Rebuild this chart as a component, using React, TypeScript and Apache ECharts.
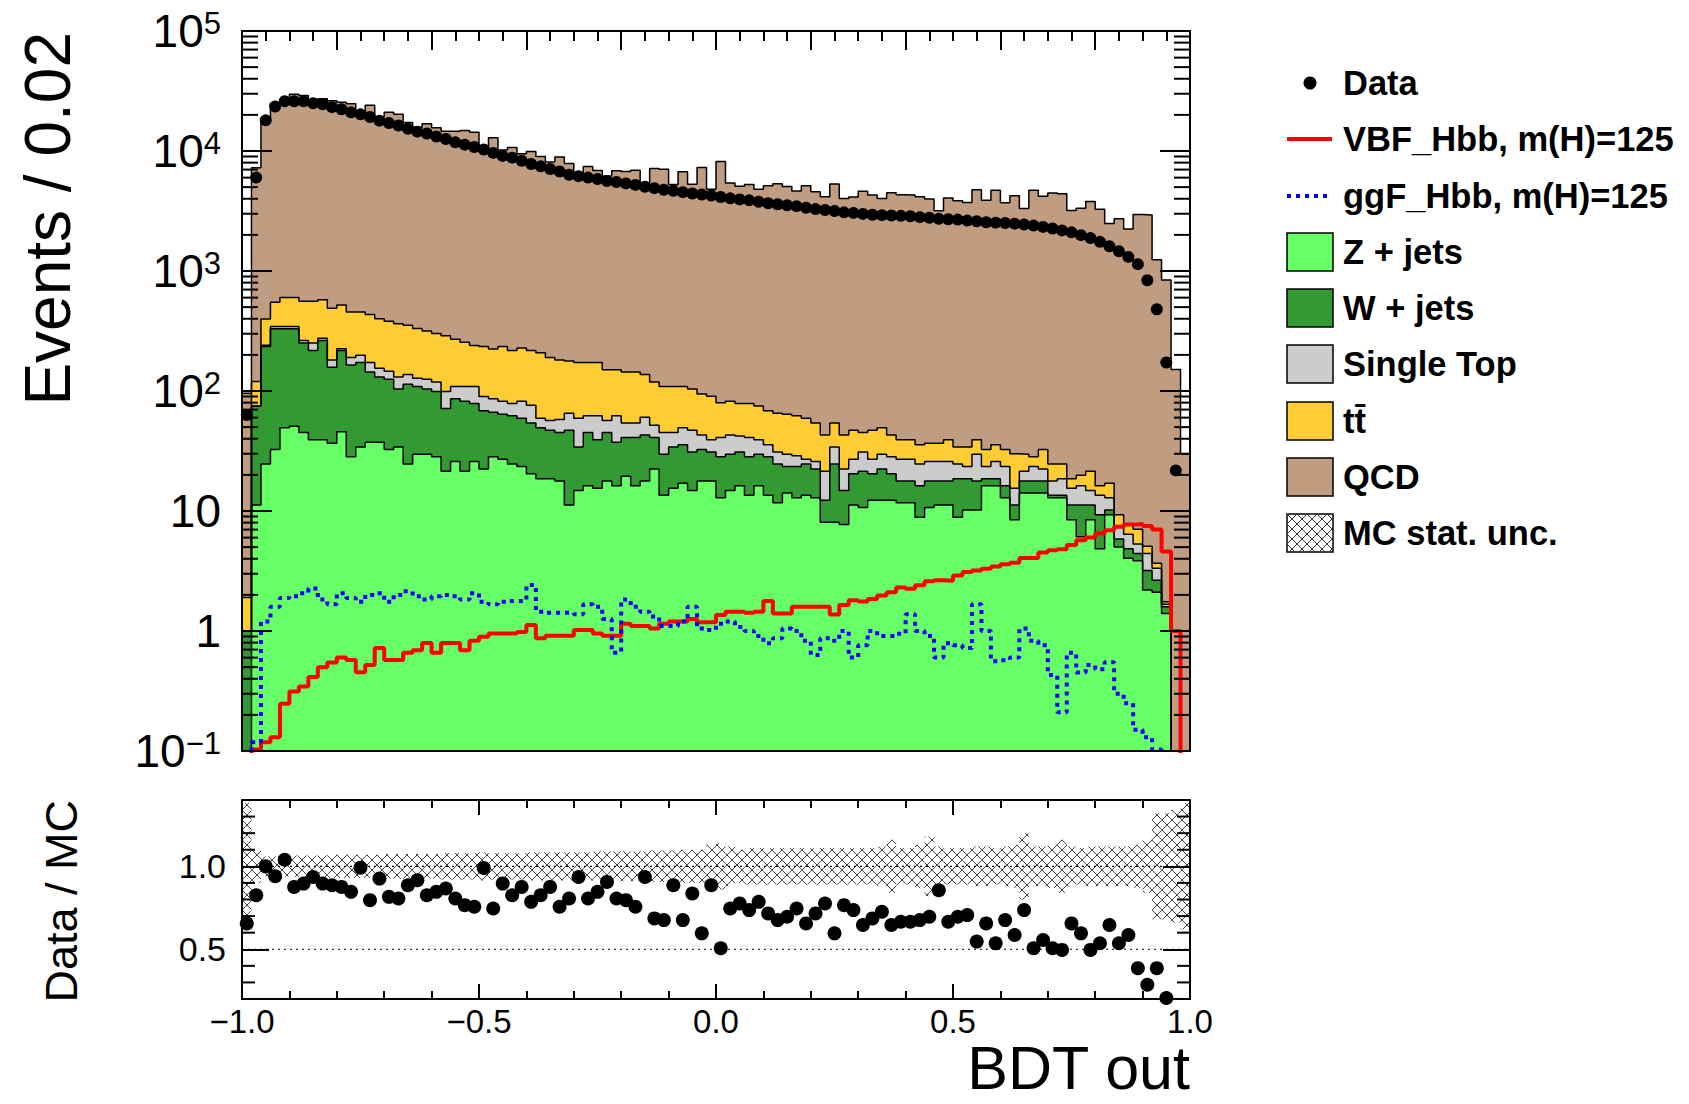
import React, { useEffect, useRef } from 'react';
import * as echarts from 'echarts';

// ---------------- binning ----------------
const X_MIN = -1;
const BIN_WIDTH = 0.02;
const N_BINS = 100;

// ---------------- data ----------------
const dataEvents: (number | null)[] = [
  63, 6000, 18000, 23500, 26000, 26000, 26000, 25000, 24500, 23200,
  22300, 21000, 20200, 19200, 17900, 17100, 16300, 15300, 14500, 14000,
  13200, 12600, 11800, 11300, 10800, 10300, 9640, 9100, 8800, 8300,
  7800, 7450, 7080, 6750, 6340, 6170, 6000, 5830, 5620, 5520,
  5370, 5220, 5040, 4900, 4760, 4670, 4540, 4420, 4340, 4260,
  4140, 4030, 3950, 3880, 3780, 3670, 3600, 3530, 3470, 3370,
  3280, 3220, 3160, 3080, 3050, 2990, 2940, 2920, 2900, 2880,
  2860, 2810, 2780, 2720, 2700, 2680, 2630, 2600, 2550, 2530,
  2510, 2480, 2440, 2390, 2330, 2260, 2180, 2100, 1990, 1880,
  1750, 1610, 1460, 1310, 1140, 838, 480, 173, 21.8, null,
];

// cumulative stack levels (Z+jets, +W+jets, +Single Top, +ttbar, +QCD)
const stackQCD = [
  96, 7260, 18000, 25000, 25000, 29700, 29000, 26700, 27300, 26200,
  25500, 24800, 20400, 24100, 19300, 21000, 20200, 17300, 15800, 16900,
  15600, 14600, 14600, 14800, 14300, 10400, 12900, 10200, 10700, 9480,
  9920, 9020, 8080, 8930, 7870, 6590, 7440, 6890, 6200, 6850,
  6750, 6900, 5390, 7140, 7040, 5270, 6720, 5290, 7280, 4810,
  8180, 5400, 5090, 5270, 4810, 5130, 5330, 5070, 4650, 5140,
  4580, 4150, 5300, 4020, 4140, 4630, 4290, 4020, 4490, 4320,
  4290, 4160, 3990, 3180, 4050, 3850, 3730, 4760, 3890, 4720,
  3710, 4230, 3320, 4720, 4190, 4470, 4400, 3200, 3340, 3790,
  3270, 2490, 2720, 2240, 2950, 2930, 1240, 840, 151, 30,
];
const stackTTbar = [
  1.9, 120, 399, 550, 600, 600, 560, 560, 575, 490,
  520, 455, 455, 435, 400, 381, 363, 353, 331, 316,
  302, 288, 270, 255, 239, 235, 224, 235, 218, 228,
  218, 208, 190, 181, 178, 173, 173, 173, 150, 150,
  144, 144, 137, 119, 109, 109, 109, 104, 94.6, 90.3,
  80, 82.3, 78.5, 78.5, 75, 68.4, 65.3, 64, 62.2, 59.4,
  54.2, 43, 54.2, 43, 47.1, 45, 47.1, 49.4, 43, 39.2,
  39.2, 35.7, 36.7, 36.7, 39.2, 34.1, 34.1, 39.2, 32.5, 35.7,
  32.5, 30, 29.7, 28.3, 32.5, 24.6, 24.6, 18.6, 19.9, 21.4,
  16.2, 17.0, 9.29, 7.71, 7.03, 5.08, 3.67, 1.75, 0.01, 0.01,
];
const stackSingleTop = [
  1.0, 75, 240, 345, 345, 345, 263, 251, 275, 181,
  225, 190, 199, 173, 155, 146, 131, 137, 128, 125,
  119, 99, 109, 109, 109, 90, 86, 82, 78.5, 82,
  76, 59.4, 56.7, 58, 65.3, 59.4, 62.2, 62.2, 56.7, 62.2,
  54.2, 54.2, 60.5, 51.8, 45, 45, 49.4, 47.1, 43, 39.2,
  41, 43, 42.2, 41, 39.2, 35.7, 31, 29.7, 28.8, 27,
  25.8, 21.4, 34.1, 22.4, 27, 31, 27, 29.7, 28.3, 27,
  27, 24.6, 25.8, 25.8, 25.8, 24.6, 23.5, 29.7, 23.5, 25.8,
  23.5, 15.5, 21.4, 23.5, 22.4, 17.8, 18.6, 15.5, 16.2, 14.8,
  13.5, 12.9, 7.36, 6.4, 5.32, 4.42, 3.34, 1.67, 0.01, 0.01,
];
const stackWJets = [
  1.0, 75, 235, 330, 330, 330, 251, 218, 263, 158,
  218, 165, 173, 144, 131, 125, 104, 114, 109, 104,
  99, 71.6, 86, 82, 78.5, 68.4, 66.5, 64, 62.2, 59.4,
  54.2, 49.4, 47.1, 45, 47.1, 34.1, 45, 39.2, 45, 37.4,
  41, 41, 43, 41, 29.7, 34.1, 35.7, 31, 32.5, 31,
  28.3, 29.7, 31, 28.3, 29.7, 28.3, 24.6, 23.5, 23.5, 24.6,
  22.4, 12.3, 24.6, 14.8, 20.4, 21.4, 20.4, 22.4, 20.4, 17.8,
  17.8, 16.2, 17.8, 17.8, 17.8, 18.6, 18.6, 17.8, 18.6, 18.6,
  16.2, 11.2, 17.8, 17.8, 17.8, 13.5, 13.5, 11.2, 11.2, 11.2,
  9.29, 10.2, 5.83, 4.84, 4.42, 3.19, 2.65, 1.59, 0.01, 0.01,
];
const zJets = [
  0.08, 11.2, 24.6, 32.5, 49.4, 50.8, 45, 39.2, 39.2, 36.7,
  45.8, 28.3, 34.1, 37.4, 37.4, 32.5, 34.1, 24.6, 29.7, 29.7,
  28.3, 21.4, 25.8, 21.4, 25.8, 22.4, 28.3, 27, 24.6, 23.5,
  20.4, 18.6, 18.6, 17.8, 11.2, 14.8, 16.2, 15.5, 17.8, 16.2,
  19.5, 16.2, 17.8, 22.4, 13.5, 15.5, 17.0, 14.8, 17.8, 17.8,
  12.9, 14.8, 16.2, 13.5, 16.2, 13.5, 11.7, 14.1, 12.9, 13.5,
  12.9, 8.07, 8.07, 7.71, 11.2, 10.7, 12.3, 12.3, 12.3, 11.7,
  11.7, 8.87, 10.7, 11.2, 11.2, 8.87, 10.2, 10.2, 16.2, 16.2,
  12.9, 8.46, 14.1, 14.1, 14.1, 12.9, 12.9, 8.46, 6.1, 8.46,
  4.84, 9.29, 5.0, 4.03, 3.85, 2.2, 2.1, 1.4, 0.01, 0.01,
];
const vbfHbb = [
  0.05, 0.103, 0.118, 0.13, 0.248, 0.313, 0.344, 0.414, 0.499, 0.547,
  0.6, 0.573, 0.454, 0.522, 0.723, 0.573, 0.573, 0.659, 0.69, 0.793,
  0.659, 0.793, 0.793, 0.69, 0.83, 0.895, 0.955, 0.955, 0.955, 0.982,
  1.12, 0.871, 0.912, 0.912, 0.912, 1.02, 1.02, 0.955, 0.912, 0.912,
  1.15, 1.1, 1.1, 1.05, 1.15, 1.2, 1.2, 1.26, 1.18, 1.18,
  1.36, 1.45, 1.45, 1.42, 1.45, 1.78, 1.4, 1.4, 1.59, 1.59,
  1.59, 1.59, 1.37, 1.65, 1.8, 1.76, 1.85, 1.98, 2.1, 2.3,
  2.25, 2.4, 2.6, 2.65, 2.62, 2.9, 3.1, 3.2, 3.3, 3.45,
  3.6, 3.7, 4.05, 4.05, 4.5, 4.7, 4.8, 5.2, 5.7, 6.0,
  6.5, 6.9, 7.4, 7.7, 7.8, 7.5, 7.0, 4.6, 1.0, 0.01,
];
const ggfHbb = [
  0.05, 0.118, 1.2, 1.59, 1.88, 1.95, 2.06, 2.26, 1.83, 1.67,
  2.06, 1.88, 1.75, 2.0, 2.06, 1.75, 2.0, 2.14, 1.95, 1.83,
  1.95, 2.0, 1.95, 1.83, 2.06, 1.75, 1.67, 1.75, 1.78, 1.78,
  2.42, 1.45, 1.42, 1.42, 1.42, 1.38, 1.67, 1.59, 1.26, 0.66,
  1.83, 1.59, 1.45, 1.32, 1.1, 1.1, 1.2, 1.59, 1.05, 1.02,
  1.15, 1.2, 1.08, 1.0, 0.91, 0.79, 0.87, 1.05, 1.0, 0.83,
  0.63, 0.87, 0.83, 1.0, 0.6, 0.76, 1.0, 0.91, 0.91, 0.95,
  1.38, 1.0, 0.91, 0.6, 0.79, 0.76, 0.72, 1.67, 1.0, 0.56,
  0.57, 0.6, 1.05, 0.83, 0.76, 0.43, 0.21, 0.66, 0.45, 0.52,
  0.48, 0.55, 0.3, 0.25, 0.15, 0.13, 0.103, 0.05, 0.05, 0.05,
];
const ratioDataMC: (number | null)[] = [
  0.656, 0.826, 1.0, 0.94, 1.04, 0.876, 0.896, 0.936, 0.896, 0.886,
  0.876, 0.846, 0.992, 0.796, 0.926, 0.816, 0.806, 0.886, 0.916, 0.826,
  0.846, 0.866, 0.806, 0.766, 0.756, 0.99, 0.746, 0.896, 0.826, 0.876,
  0.786, 0.826, 0.876, 0.756, 0.806, 0.936, 0.806, 0.846, 0.906, 0.806,
  0.796, 0.756, 0.936, 0.686, 0.676, 0.886, 0.676, 0.836, 0.596, 0.886,
  0.506, 0.746, 0.776, 0.736, 0.786, 0.716, 0.676, 0.696, 0.746, 0.656,
  0.716, 0.776, 0.596, 0.766, 0.736, 0.646, 0.686, 0.726, 0.646, 0.666,
  0.666, 0.676, 0.696, 0.856, 0.666, 0.696, 0.706, 0.546, 0.656, 0.536,
  0.676, 0.586, 0.736, 0.506, 0.556, 0.506, 0.496, 0.656, 0.596, 0.496,
  0.536, 0.646, 0.536, 0.586, 0.386, 0.286, 0.386, 0.206, null, null,
];
const mcStatUnc = [
  0.38, 0.1, 0.06, 0.06, 0.06, 0.065, 0.065, 0.065, 0.065, 0.07,
  0.07, 0.07, 0.07, 0.07, 0.07, 0.075, 0.075, 0.075, 0.075, 0.075,
  0.075, 0.08, 0.08, 0.08, 0.08, 0.085, 0.08, 0.08, 0.08, 0.08,
  0.085, 0.085, 0.085, 0.085, 0.085, 0.085, 0.085, 0.09, 0.09, 0.09,
  0.09, 0.09, 0.09, 0.095, 0.095, 0.095, 0.1, 0.1, 0.1, 0.13,
  0.14, 0.12, 0.1, 0.11, 0.11, 0.11, 0.11, 0.11, 0.11, 0.11,
  0.11, 0.11, 0.11, 0.11, 0.11, 0.11, 0.11, 0.12, 0.16, 0.11,
  0.11, 0.13, 0.18, 0.12, 0.11, 0.11, 0.11, 0.12, 0.12, 0.11,
  0.12, 0.13, 0.2, 0.12, 0.12, 0.13, 0.16, 0.12, 0.11, 0.12,
  0.12, 0.12, 0.12, 0.12, 0.13, 0.16, 0.32, 0.32, 0.34, 0.38,
];

const ratioMinorTicks = [0.3, 0.4, 0.6, 0.7, 0.8, 0.9, 1.1, 1.2, 1.3];
const ratioMajorTicks = [0.5, 1.0];

// ---------------- style ----------------
const FONT = '"Liberation Sans", Arial, Helvetica, sans-serif';
const COL = {
  qcd: '#C09C81',
  tt: '#FFCC33',
  st: '#CCCCCC',
  w: '#339933',
  z: '#66FF66',
  vbf: '#FF0000',
  ggf: '#0000FF',
};
const MAIN = { left: 242, top: 31, width: 948, height: 720 };
const RATIO = { left: 242, top: 800, width: 948, height: 199 };

const edge = (i: number) => X_MIN + i * BIN_WIDTH;
const stepPoints = (vals: number[]) => {
  const pts = vals.map((v, i) => [edge(i), v]);
  pts.push([edge(N_BINS), vals[N_BINS - 1]]);
  return pts;
};

function hatchSegments(x0: number, y0: number, x1: number, y1: number, P: number, ox: number, oy: number) {
  const segs: number[][] = [];
  const aMin = (x0 - ox) - (y1 - oy);
  const aMax = (x1 - ox) - (y0 - oy);
  for (let k = Math.ceil(aMin / P); k * P <= aMax; k++) {
    const c = k * P;
    const xs = Math.max(x0, y0 + ox - oy + c);
    const xe = Math.min(x1, y1 + ox - oy + c);
    if (xe > xs) segs.push([xs, xs - ox + oy - c, xe, xe - ox + oy - c]);
  }
  const bMin = (x0 - ox) + (y0 - oy);
  const bMax = (x1 - ox) + (y1 - oy);
  for (let k = Math.ceil(bMin / P); k * P <= bMax; k++) {
    const c = k * P;
    const xs = Math.max(x0, c + ox + oy - y1);
    const xe = Math.min(x1, c + ox + oy - y0);
    if (xe > xs) segs.push([xs, c + ox + oy - xs, xe, c + ox + oy - xe]);
  }
  return segs;
}

const filledHist = (name: string, vals: number[], color: string) => ({
  type: 'line',
  name,
  xAxisIndex: 0,
  yAxisIndex: 0,
  step: 'end',
  symbol: 'none',
  silent: true,
  clip: true,
  z: 2,
  data: stepPoints(vals),
  lineStyle: { color: '#000', width: 1.5 },
  areaStyle: { color, opacity: 1, origin: 'start' },
});

function buildOption() {
  const logMinor: number[][] = [];
  for (let e = -1; e < 5; e++) for (let m = 2; m <= 9; m++) logMinor.push([0, m * Math.pow(10, e)]);

  const axisLineStyle = { color: '#000', width: 2 };
  const tickLine = { color: '#000', width: 2 };

  const logLabel = (v: number) => {
    const e = Math.round(Math.log10(v));
    if (e === 0) return '{b|1}';
    if (e === 1) return '{b|10}';
    return `{b|10}{s|${e < 0 ? '\u2212' + -e : e}}`;
  };

  const legendRows = [
    { label: 'Data', kind: 'dot', y: 83 },
    { label: 'VBF_Hbb, m(H)=125', kind: 'line', color: COL.vbf, y: 139 },
    { label: 'ggF_Hbb, m(H)=125', kind: 'dotted', color: COL.ggf, y: 196 },
    { label: 'Z + jets', kind: 'box', color: COL.z, y: 252 },
    { label: 'W + jets', kind: 'box', color: COL.w, y: 308 },
    { label: 'Single Top', kind: 'box', color: COL.st, y: 364 },
    { label: 'tt\u0304', kind: 'box', color: COL.tt, y: 421 },
    { label: 'QCD', kind: 'box', color: COL.qcd, y: 477 },
    { label: 'MC stat. unc.', kind: 'hatch', y: 533 },
  ];
  const legendEls: any[] = [];
  legendRows.forEach((r) => {
    const bx = 1287, bw = 46, bh = 38;
    if (r.kind === 'dot') {
      legendEls.push({ type: 'circle', shape: { cx: 1310, cy: r.y, r: 6.5 }, style: { fill: '#000' } });
    } else if (r.kind === 'line') {
      legendEls.push({ type: 'line', shape: { x1: bx, y1: r.y, x2: bx + 45, y2: r.y }, style: { stroke: r.color, lineWidth: 4 } });
    } else if (r.kind === 'dotted') {
      legendEls.push({ type: 'line', shape: { x1: bx, y1: r.y, x2: bx + 41, y2: r.y }, style: { stroke: r.color, lineWidth: 4, lineDash: [4, 5] } });
    } else if (r.kind === 'box') {
      legendEls.push({ type: 'rect', shape: { x: bx, y: r.y - bh / 2, width: bw, height: bh }, style: { fill: r.color, stroke: '#000', lineWidth: 1.5 } });
    } else {
      legendEls.push({ type: 'rect', shape: { x: bx, y: r.y - bh / 2, width: bw, height: bh }, style: { fill: '#fff', stroke: '#000', lineWidth: 1.5 } });
      hatchSegments(bx, r.y - bh / 2, bx + bw, r.y + bh / 2, 10, bx, r.y - bh / 2).forEach((s) =>
        legendEls.push({ type: 'line', shape: { x1: s[0], y1: s[1], x2: s[2], y2: s[3] }, style: { stroke: '#333', lineWidth: 1 } })
      );
    }
    legendEls.push({
      type: 'text', x: 1343, y: r.y,
      style: { text: r.label, font: `bold 34.5px ${FONT}`, fill: '#000', textAlign: 'left', textVerticalAlign: 'middle' },
    });
  });

  return {
    animation: false,
    backgroundColor: '#fff',
    grid: [
      { ...MAIN, containLabel: false },
      { ...RATIO, containLabel: false },
    ],
    xAxis: [
      {
        type: 'value', gridIndex: 0, min: -1, max: 1, interval: 0.2, position: 'bottom', z: 6,
        axisLine: { show: true, onZero: false, lineStyle: axisLineStyle },
        axisTick: { show: false }, axisLabel: { show: false }, splitLine: { show: false },
      },
      {
        type: 'value', gridIndex: 0, min: -1, max: 1, interval: 0.2, position: 'top', z: 6,
        axisLine: { show: true, onZero: false, lineStyle: axisLineStyle },
        axisTick: { show: true, inside: true, length: 19, lineStyle: tickLine },
        minorTick: { show: true, splitNumber: 4, length: 10, lineStyle: { color: '#000', width: 2 } },
        axisLabel: { show: false }, splitLine: { show: false },
      },
      {
        type: 'value', gridIndex: 1, min: -1, max: 1, interval: 0.5, position: 'bottom', z: 6,
        axisLine: { show: true, onZero: false, lineStyle: axisLineStyle },
        axisTick: { show: true, inside: true, length: 15, lineStyle: tickLine },
        minorTick: { show: true, splitNumber: 5, length: 8, lineStyle: { color: '#000', width: 2 } },
        axisLabel: {
          show: true, margin: 6, color: '#000', fontFamily: FONT, fontSize: 33,
          formatter: (v: number) => (v < 0 ? '\u2212' : '') + Math.abs(v).toFixed(1),
        },
        splitLine: { show: false },
      },
      {
        type: 'value', gridIndex: 1, min: -1, max: 1, interval: 0.5, position: 'top', z: 6,
        axisLine: { show: true, onZero: false, lineStyle: axisLineStyle },
        axisTick: { show: true, inside: true, length: 15, lineStyle: tickLine },
        minorTick: { show: true, splitNumber: 5, length: 8, lineStyle: { color: '#000', width: 2 } },
        axisLabel: { show: false }, splitLine: { show: false },
      },
    ],
    yAxis: [
      {
        type: 'log', logBase: 10, gridIndex: 0, min: 0.1, max: 100000, position: 'left', z: 6,
        axisLine: { show: true, onZero: false, lineStyle: axisLineStyle },
        axisTick: { show: true, inside: true, length: 30, lineStyle: tickLine },
        axisLabel: {
          show: true, margin: 21, color: '#000', formatter: logLabel,
          rich: {
            b: { fontFamily: FONT, fontSize: 46, lineHeight: 46, color: '#000' },
            s: { fontFamily: FONT, fontSize: 31, lineHeight: 20, verticalAlign: 'top', color: '#000' },
          },
        },
        splitLine: { show: false }, minorTick: { show: false },
      },
      {
        type: 'log', logBase: 10, gridIndex: 0, min: 0.1, max: 100000, position: 'right', z: 6,
        axisLine: { show: true, onZero: false, lineStyle: axisLineStyle },
        axisTick: { show: true, inside: true, length: 30, lineStyle: tickLine },
        axisLabel: { show: false }, splitLine: { show: false }, minorTick: { show: false },
      },
      {
        type: 'value', gridIndex: 1, min: 0.2, max: 1.4, position: 'left', z: 6,
        axisLine: { show: true, onZero: false, lineStyle: axisLineStyle },
        axisTick: { show: true, inside: true, length: 27, lineStyle: tickLine, customValues: ratioMajorTicks },
        axisLabel: {
          show: true, margin: 16, color: '#000', fontFamily: FONT, fontSize: 34,
          customValues: ratioMajorTicks, formatter: (v: number) => v.toFixed(1),
        },
        splitLine: { show: false }, minorTick: { show: false },
      },
      {
        type: 'value', gridIndex: 1, min: 0.2, max: 1.4, position: 'right', z: 6,
        axisLine: { show: true, onZero: false, lineStyle: axisLineStyle },
        axisTick: { show: true, inside: true, length: 27, lineStyle: tickLine, customValues: ratioMajorTicks },
        axisLabel: { show: false }, splitLine: { show: false }, minorTick: { show: false },
      },
    ],
    series: [
      filledHist('QCD', stackQCD, COL.qcd),
      filledHist('tt', stackTTbar, COL.tt),
      filledHist('Single Top', stackSingleTop, COL.st),
      filledHist('W + jets', stackWJets, COL.w),
      filledHist('Z + jets', zJets, COL.z),
      {
        type: 'line', name: 'VBF_Hbb, m(H)=125', xAxisIndex: 0, yAxisIndex: 0, step: 'end', symbol: 'none',
        clip: true, z: 3, silent: true, data: stepPoints(vbfHbb),
        lineStyle: { color: COL.vbf, width: 4 },
      },
      {
        type: 'line', name: 'ggF_Hbb, m(H)=125', xAxisIndex: 0, yAxisIndex: 0, step: 'end', symbol: 'none',
        clip: true, z: 3, silent: true, data: stepPoints(ggfHbb),
        lineStyle: { color: COL.ggf, width: 4, type: [4, 5], cap: 'butt' },
      },
      {
        type: 'scatter', name: 'Data', xAxisIndex: 0, yAxisIndex: 0, z: 4, silent: true,
        symbol: 'circle', symbolSize: 12, itemStyle: { color: '#000', opacity: 1 },
        data: dataEvents.map((v, i) => (v == null ? null : [edge(i) + BIN_WIDTH / 2, v])).filter((d) => d),
      },
      {
        type: 'custom', name: 'logMinorTicks', xAxisIndex: 0, yAxisIndex: 0, z: 7, silent: true,
        data: logMinor,
        renderItem: (params: any, api: any) => {
          const v = api.value(1);
          const l = api.coord([-1, v]);
          const r = api.coord([1, v]);
          return {
            type: 'group',
            children: [
              { type: 'line', shape: { x1: l[0], y1: l[1], x2: l[0] + 16, y2: l[1] }, style: { stroke: '#000', lineWidth: 2 } },
              { type: 'line', shape: { x1: r[0], y1: r[1], x2: r[0] - 16, y2: r[1] }, style: { stroke: '#000', lineWidth: 2 } },
            ],
          };
        },
      },
      // ----- ratio panel -----
      {
        type: 'custom', name: 'MC stat. unc.', xAxisIndex: 2, yAxisIndex: 2, z: 2, silent: true,
        data: mcStatUnc.map((u, i) => [edge(i), edge(i + 1), 1 - u, 1 + u]),
        renderItem: (params: any, api: any) => {
          const cs = params.coordSys;
          const tl = api.coord([api.value(0), api.value(3)]);
          const br = api.coord([api.value(1), api.value(2)]);
          const y0 = Math.max(tl[1], cs.y);
          const y1 = Math.min(br[1], cs.y + cs.height);
          const segs = hatchSegments(tl[0], y0, br[0], y1, 10, cs.x, cs.y);
          return {
            type: 'group',
            children: segs.map((s) => ({
              type: 'line', shape: { x1: s[0], y1: s[1], x2: s[2], y2: s[3] },
              style: { stroke: '#444', lineWidth: 1 },
            })),
          };
        },
      },
      {
        type: 'line', name: 'ref1', xAxisIndex: 2, yAxisIndex: 2, symbol: 'none', z: 3, silent: true,
        data: [[-1, 1], [1, 1]], lineStyle: { color: '#000', width: 1.2, type: [2, 4] },
      },
      {
        type: 'line', name: 'ref05', xAxisIndex: 2, yAxisIndex: 2, symbol: 'none', z: 3, silent: true,
        data: [[-1, 0.5], [1, 0.5]], lineStyle: { color: '#000', width: 1.2, type: [2, 4] },
      },
      {
        type: 'scatter', name: 'Data / MC', xAxisIndex: 2, yAxisIndex: 2, z: 4, silent: true,
        symbol: 'circle', symbolSize: 14, itemStyle: { color: '#000', opacity: 1 },
        data: ratioDataMC.map((v, i) => (v == null ? null : [edge(i) + BIN_WIDTH / 2, v])).filter((d) => d),
      },
      {
        type: 'custom', name: 'ratioMinorTicks', xAxisIndex: 2, yAxisIndex: 2, z: 7, silent: true,
        data: ratioMinorTicks.map((v) => [0, v]),
        renderItem: (params: any, api: any) => {
          const v = api.value(1);
          const l = api.coord([-1, v]);
          const r = api.coord([1, v]);
          return {
            type: 'group',
            children: [
              { type: 'line', shape: { x1: l[0], y1: l[1], x2: l[0] + 13, y2: l[1] }, style: { stroke: '#000', lineWidth: 2 } },
              { type: 'line', shape: { x1: r[0], y1: r[1], x2: r[0] - 13, y2: r[1] }, style: { stroke: '#000', lineWidth: 2 } },
            ],
          };
        },
      },
    ],
    graphic: [
      {
        type: 'text', x: 48, y: 32, rotation: Math.PI / 2,
        style: { text: 'Events / 0.02', font: `64px ${FONT}`, fill: '#000', textAlign: 'right', textVerticalAlign: 'middle' },
      },
      {
        type: 'text', x: 61, y: 800, rotation: Math.PI / 2,
        style: { text: 'Data / MC', font: `45px ${FONT}`, fill: '#000', textAlign: 'right', textVerticalAlign: 'middle' },
      },
      {
        type: 'text', x: 1190, y: 1068,
        style: { text: 'BDT out', font: `61px ${FONT}`, fill: '#000', textAlign: 'right', textVerticalAlign: 'middle' },
      },
      ...legendEls,
    ],
  };
}

export default function App() {
  const ref = useRef<HTMLDivElement>(null);
  useEffect(() => {
    if (!ref.current) return;
    const chart = echarts.init(ref.current, null, { renderer: 'svg' });
    chart.setOption(buildOption() as any);
    return () => chart.dispose();
  }, []);
  return (
    <div
      ref={ref}
      style={{ position: 'fixed', left: 0, top: 0, width: 1689, height: 1104, background: '#fff' }}
    />
  );
}
